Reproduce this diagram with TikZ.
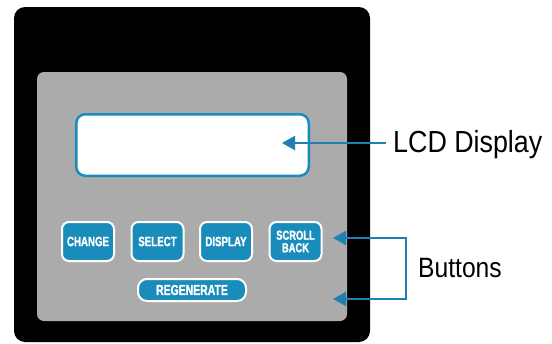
\documentclass[tikz,border=0pt]{standalone}
\usepackage{fontspec}
\usetikzlibrary{arrows.meta}
\newfontfamily\labelfont[FakeStretch=0.88]{Liberation Sans}
\newfontfamily\btnfont[FakeStretch=0.72,FakeBold=1.2]{Liberation Sans Bold}
\definecolor{panelgray}{HTML}{ABABAB}
\definecolor{btnblue}{HTML}{1A8CBB}
\definecolor{arrowblue}{HTML}{1F80B4}
\tikzset{
  btn/.style={draw=white, line width=2pt, fill=btnblue, rounded corners=7pt,
    minimum width=52pt, minimum height=39pt, inner sep=0pt, text=white,
    align=center, font=\btnfont\fontsize{13.5}{12.5}\selectfont},
  twoline/.style={font=\btnfont\fontsize{13}{12.5}\selectfont},
  pill/.style={btn, minimum width=108pt, minimum height=22pt, rounded corners=9pt,
    font=\btnfont\fontsize{14.5}{12}\selectfont},
  callout/.style={draw=arrowblue, line width=2pt,
    -{Triangle[length=13pt,width=14pt]}},
  bracket/.style={draw=arrowblue, line width=2pt,
    {Triangle[length=13pt,width=14pt]}-{Triangle[length=13pt,width=14pt]}},
  lbl/.style={inner sep=0pt, anchor=base west, text=black, font=\labelfont}
}
\begin{document}
\begin{tikzpicture}[x=1pt,y=-1pt]
\useasboundingbox (0,0) rectangle (552,343);
% housing
\fill[black, rounded corners=11pt] (14,7) rectangle (370,342);
% panel
\fill[panelgray, rounded corners=7pt] (37,72) rectangle (347,321);
% LCD window
\node[draw=btnblue, line width=2.5pt, fill=white, rounded corners=9pt,
  minimum width=232.5pt, minimum height=61.5pt, inner sep=0pt] (lcd) at (192.5,145) {};
% buttons
\node[btn] (change) at (88,241.5) {CHANGE};
\node[btn] (select) at (157.5,241.5) {SELECT};
\node[btn] (display) at (226,241.5) {DISPLAY};
\node[btn, twoline] (scroll) at (295.5,241.5) {SCROLL\\BACK};
\node[pill] (regen) at (192,290) {REGENERATE};
% labels
\node[lbl, font=\labelfont\fontsize{30.5}{34}\selectfont] (lcdlbl) at (393,152) {LCD Display};
\node[lbl, font=\labelfont\fontsize{28}{32}\selectfont] (btnlbl) at (418,277) {Buttons};
% connectors
\coordinate (lcdtip) at (282,143);
\coordinate (lcdstart) at (386,143);
\draw[callout] (lcdstart) -- (lcdtip);
\coordinate (btip1) at (333,238);
\coordinate (btip2) at (333,299);
\coordinate (bc1) at (406,238);
\coordinate (bc2) at (406,299);
\draw[bracket] (btip1) -- (bc1) -- (bc2) -- (btip2);
\end{tikzpicture}
\end{document}
